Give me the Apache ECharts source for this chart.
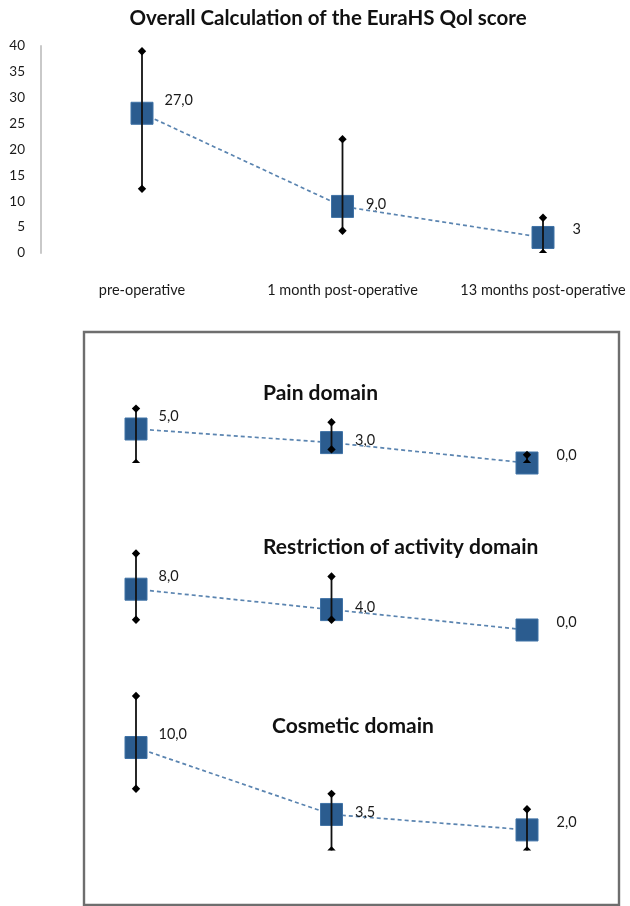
<!DOCTYPE html>
<html>
<head>
<meta charset="utf-8">
<script src="https://cdn.jsdelivr.net/npm/echarts@6/dist/echarts.min.js"></script>
<style>
  html, body { margin: 0; padding: 0; background: #ffffff; }
  #chart { width: 630px; height: 906px; }
</style>
</head>
<body>
<div id="chart"></div>
<script>
// Time points shared by every panel
const categories = ['pre-operative', '1 month post-operative', '13 months post-operative'];
const overallTicks = [0, 5, 10, 15, 20, 25, 30, 35, 40];

// Overall EuraHS QoL score: median with range
const overallMedian = [27, 9, 3];
const overallLow = [12.4, 4.3, 0];
const overallHigh = [39, 22, 6.8];
const overallDigits = [1, 1, 0];

// Pain domain
const painMedian = [5, 3, 0];
const painLow = [0, 2, 0];
const painHigh = [8, 6, 1.2];

// Restriction of activity domain
const restrictionMedian = [8, 4, 0];
const restrictionLow = [2, 2, null];
const restrictionHigh = [15, 10.5, null];

// Cosmetic domain
const cosmeticMedian = [10, 3.5, 2];
const cosmeticLow = [6, 0, 0];
const cosmeticHigh = [15, 5.5, 4];

const FONT = 'Lato, "Open Sans", sans-serif';
const MARK_COLOR = '#2b5c8f';
const LINE_COLOR = '#5a84b0';
// label placement per time point, relative to the marker centre
const labelShift = [[11, -13], [12, -2], [18, -8]];

function fmt(v, d) {
  return v.toFixed(d).replace('.', ',');
}

function medianSeries(idx, values, digits) {
  return {
    type: 'line',
    xAxisIndex: idx,
    yAxisIndex: idx,
    clip: false,
    z: 2,
    symbol: 'rect',
    symbolSize: 22,
    lineStyle: { color: LINE_COLOR, width: 1.7, type: [4, 3] },
    itemStyle: { color: MARK_COLOR, borderColor: '#3f72a6', borderWidth: 1 },
    data: values.map((v, i) => ({
      value: v,
      label: {
        show: true,
        position: 'right',
        distance: 0,
        offset: labelShift[i],
        formatter: fmt(v, digits ? digits[i] : 1),
        color: '#1a1a1a',
        fontSize: 14.5,
        fontFamily: FONT
      }
    })),
    emphasis: { disabled: true },
    animation: false
  };
}

// Diamond end cap, cut off at the bottom of the plotting area
function cap(p, d, floor) {
  const [x, y] = p;
  if (y + d <= floor) {
    return [[x, y - d], [x + d, y], [x, y + d], [x - d, y]];
  }
  const w = d - Math.abs(floor - y);
  if (floor >= y) {
    return [[x, y - d], [x + d, y], [x + w, floor], [x - w, floor], [x - d, y]];
  }
  return [[x, y - d], [x + w, floor], [x - w, floor]];
}

function rangeSeries(idx, low, high) {
  const data = [];
  low.forEach((l, i) => {
    if (l !== null && high[i] !== null) data.push([i, l, high[i]]);
  });
  return {
    type: 'custom',
    xAxisIndex: idx,
    yAxisIndex: idx,
    clip: false,
    z: 5,
    data: data,
    renderItem: function (params, api) {
      const floor = params.coordSys.y + params.coordSys.height;
      const x = api.value(0);
      const top = api.coord([x, api.value(2)]);
      const bot = api.coord([x, api.value(1)]);
      const d = 4.2;
      return {
        type: 'group',
        children: [
          { type: 'line', shape: { x1: top[0], y1: top[1], x2: bot[0], y2: Math.min(bot[1], floor) }, style: { stroke: '#111', lineWidth: 1.8 } },
          { type: 'polygon', shape: { points: cap(top, d, floor) }, style: { fill: '#000' } },
          { type: 'polygon', shape: { points: cap(bot, d, floor) }, style: { fill: '#000' } }
        ]
      };
    },
    animation: false
  };
}

const grids = [
  { left: 142, right: 87, top: 46, height: 207 },
  { left: 136, right: 103, top: 395, height: 68 },
  { left: 136, right: 103, top: 548.4, height: 81.6 },
  { left: 136, right: 103, top: 685.7, height: 164.8 }
];

const xAxes = grids.map((g, i) => ({
  type: 'category',
  gridIndex: i,
  data: categories,
  boundaryGap: false,
  axisLine: { show: false },
  axisTick: { show: false },
  axisLabel: i === 0
    ? { show: true, interval: 0, hideOverlap: false, margin: 30, color: '#1a1a1a', fontSize: 14.5, fontFamily: FONT }
    : { show: false },
  splitLine: { show: false }
}));

const yAxes = [
  {
    type: 'value', gridIndex: 0, min: overallTicks[0], max: overallTicks[overallTicks.length - 1], interval: 5,
    offset: 101,
    axisLine: { show: true, lineStyle: { color: '#c9c9c9', width: 2 } },
    axisTick: { show: false },
    splitLine: { show: false },
    axisLabel: { margin: 16, color: '#1a1a1a', fontSize: 13.5, fontFamily: FONT }
  },
  { type: 'value', gridIndex: 1, min: 0, max: 10, show: false },
  { type: 'value', gridIndex: 2, min: 0, max: 16, show: false },
  { type: 'value', gridIndex: 3, min: 0, max: 16, show: false }
];

const titleStyle = { color: '#111', fontWeight: 'bold', fontFamily: FONT, fontSize: 21 };

const option = {
  backgroundColor: '#ffffff',
  animation: false,
  title: [
    { text: 'Overall Calculation of the EuraHS Qol score', left: 328, top: 8, textAlign: 'center', padding: 0, textStyle: Object.assign({}, titleStyle, { fontSize: 20.5 }) },
    { text: 'Pain domain', left: 263, top: 383, padding: 0, textStyle: titleStyle },
    { text: 'Restriction of activity domain', left: 263, top: 537, padding: 0, textStyle: titleStyle },
    { text: 'Cosmetic domain', left: 272, top: 716, padding: 0, textStyle: titleStyle }
  ],
  graphic: [
    {
      type: 'rect',
      shape: { x: 84, y: 332, width: 535, height: 573 },
      style: { fill: 'none', stroke: '#6e6e6e', lineWidth: 2.4 },
      z: 0
    }
  ],
  grid: grids,
  xAxis: xAxes,
  yAxis: yAxes,
  series: [
    medianSeries(0, overallMedian, overallDigits),
    rangeSeries(0, overallLow, overallHigh),
    medianSeries(1, painMedian),
    rangeSeries(1, painLow, painHigh),
    medianSeries(2, restrictionMedian),
    rangeSeries(2, restrictionLow, restrictionHigh),
    medianSeries(3, cosmeticMedian),
    rangeSeries(3, cosmeticLow, cosmeticHigh)
  ]
};

const chart = echarts.init(document.getElementById('chart'), null, { renderer: 'canvas' });
chart.setOption(option);
</script>
</body>
</html>
